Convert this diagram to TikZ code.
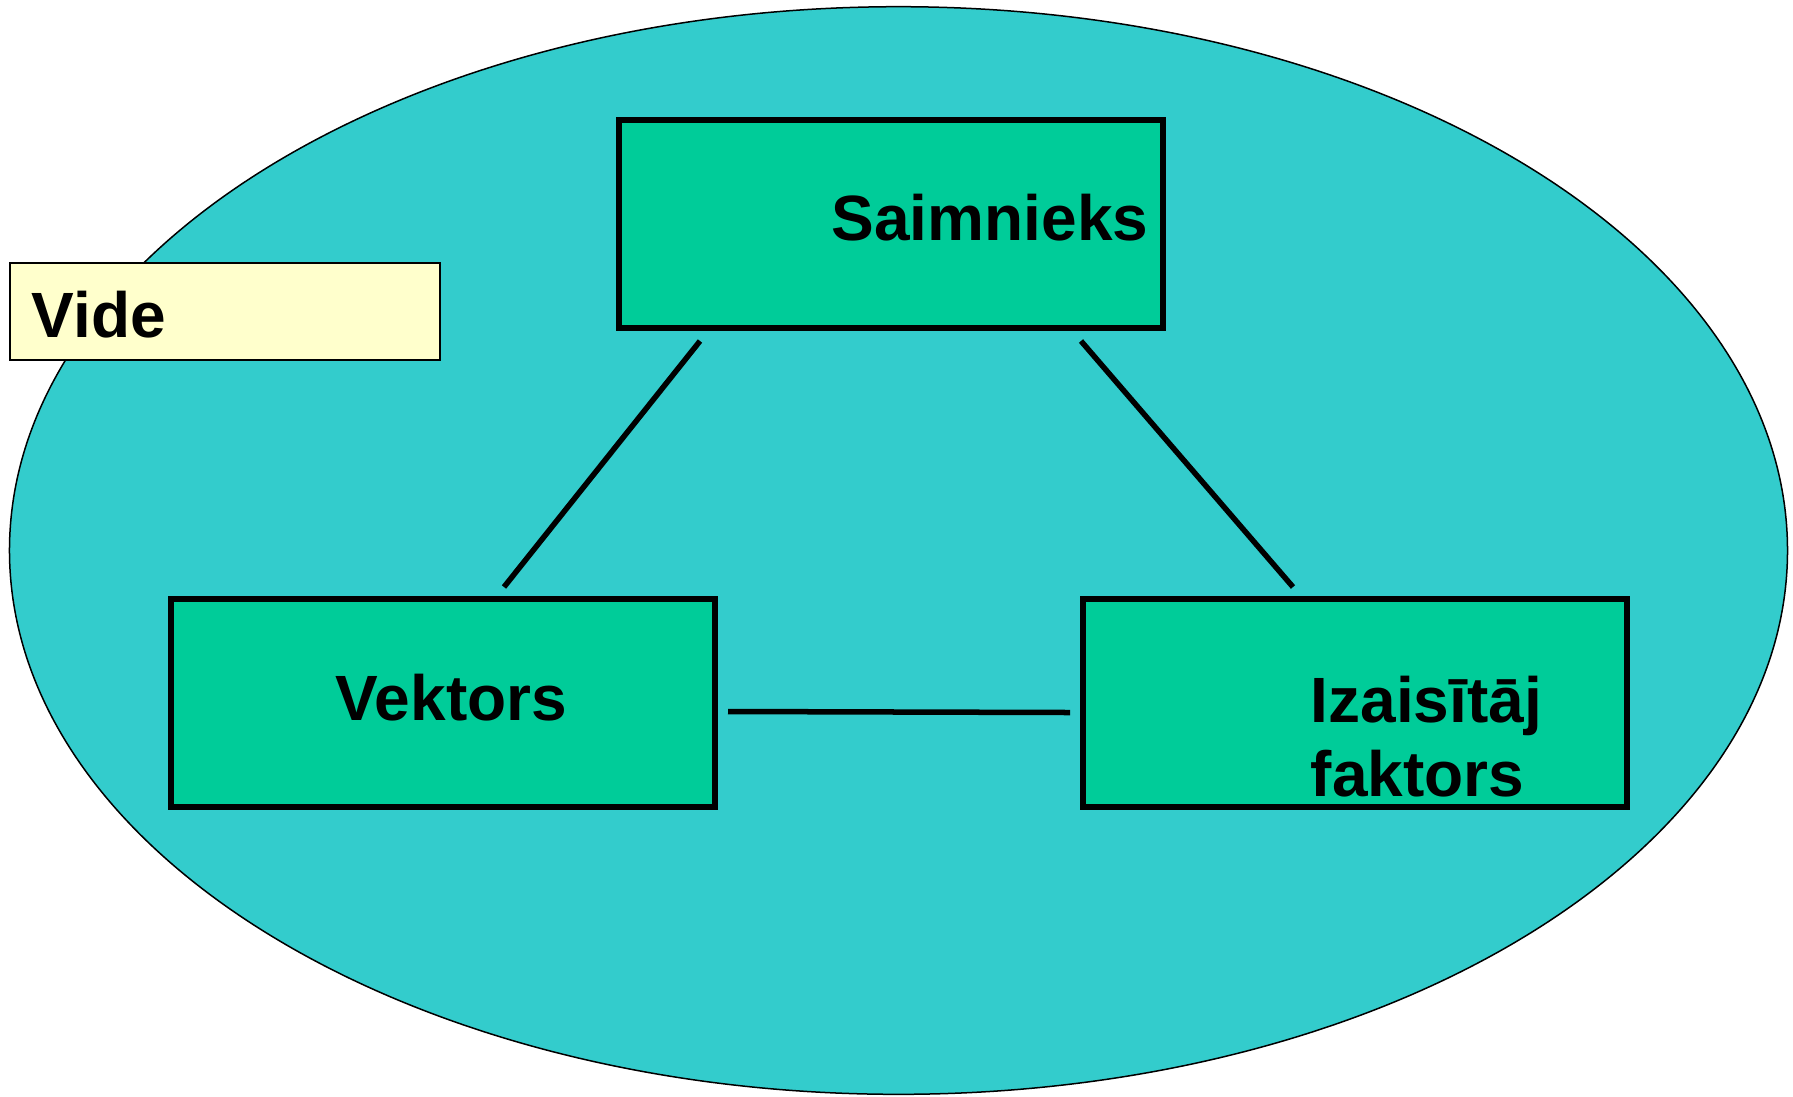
\documentclass[tikz,border=0pt]{standalone}
\usepackage{fontspec}
\setmainfont{Liberation Sans}
\usetikzlibrary{shapes.geometric}
\definecolor{envfill}{HTML}{33CCCC}
\definecolor{boxfill}{HTML}{00CC99}
\definecolor{labelfill}{HTML}{FFFFCC}
\begin{document}
\begin{tikzpicture}[x=0.01cm,y=-0.01cm,
  env/.style={ellipse,draw=black,line width=0.015cm,fill=envfill,inner sep=0pt},
  agent/.style={rectangle,draw=black,line width=0.06cm,fill=boxfill,inner sep=0pt,
    minimum width=5.44cm,minimum height=2.08cm},
  tag/.style={rectangle,draw=black,line width=0.015cm,fill=labelfill,inner sep=0pt,
    minimum width=4.30cm,minimum height=0.97cm},
  word/.style={anchor=base west,inner sep=0pt,font=\bfseries\fontsize{18.2pt}{20.8pt}\selectfont},
  link/.style={line width=0.055cm}]
  \useasboundingbox (0,0) rectangle (1793,1096);
  \fill[white] (0,0) rectangle (1793,1096);

  % environment
  \node[env,minimum width=17.77cm,minimum height=10.87cm] (vide) at (898.5,550.5) {};

  % the three parts of the triad
  \node[agent] (host) at (891,224) {};
  \node[agent] (vector) at (443,703) {};
  \node[agent] (cause) at (1355,703) {};

  % environment label
  \node[tag] (videtag) at (225,311.5) {};

  % labels
  \node[word] (hostt) at (831,240) {Saimnieks};
  \node[word] (vectort) at (335,720) {Vektors};
  \node[word] (causet1) at (1310,722) {Izaisītāj};
  \node[word] (causet2) at (1310,796) {faktors};
  \node[word] (videt) at (31,337) {Vide};

  % links between the parts
  \coordinate (h1) at (700,341);
  \coordinate (v1) at (504,587);
  \coordinate (h2) at (1081,341);
  \coordinate (c1) at (1293,587);
  \coordinate (v2) at (728,711.5);
  \coordinate (c2) at (1070,712.5);
  \draw[link] (h1) -- (v1);
  \draw[link] (h2) -- (c1);
  \draw[link] (v2) -- (c2);
\end{tikzpicture}
\end{document}
